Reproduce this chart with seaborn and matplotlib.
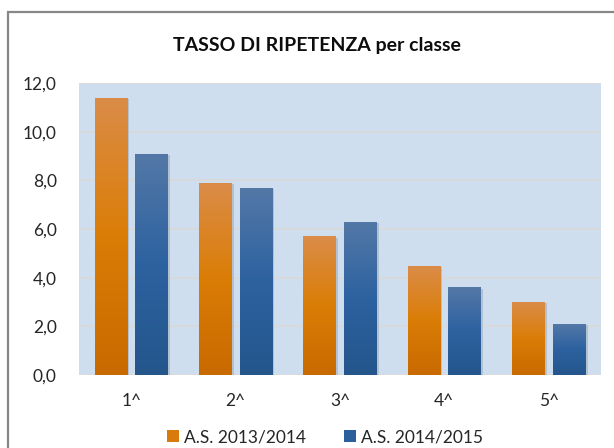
import matplotlib
matplotlib.use('Agg')
import matplotlib.pyplot as plt
import matplotlib.patheffects as pe
from matplotlib.colors import LinearSegmentedColormap
from matplotlib.patches import Rectangle
from matplotlib.ticker import FuncFormatter, MultipleLocator
import numpy as np
import pandas as pd
import seaborn as sns

# data
classi = ["1^", "2^", "3^", "4^", "5^"]
anni = ["A.S. 2013/2014", "A.S. 2014/2015"]
tasso_2013 = [11.4, 7.9, 5.7, 4.5, 3.0]
tasso_2014 = [9.1, 7.7, 6.3, 3.6, 2.1]

df = pd.DataFrame({"classe": classi, anni[0]: tasso_2013, anni[1]: tasso_2014})
df = df.melt(id_vars="classe", var_name="anno", value_name="tasso")

sns.set_theme(style="white")
plt.rcParams['font.family'] = ['Lato', 'DejaVu Sans']

orange = "#D97B0A"
blue = "#2C609C"
grads = {
    orange.lower(): ["#C96A00", "#DA7D06", "#DB8C48"],
    blue.lower(): ["#24568C", "#2D62A0", "#5378A7"],
}

fig = plt.figure(figsize=(6.14, 4.48), dpi=100)
ax = fig.add_axes([79 / 614, 1 - 375 / 448, 522 / 614, 292 / 448])

sns.barplot(data=df, x="classe", y="tasso", hue="anno", palette=[orange, blue],
            width=0.78, gap=0.2, saturation=1, linewidth=0, ax=ax, legend=True)

ax.set_xlim(-0.5, 4.5)
ax.set_ylim(0, 12)
ax.set_facecolor("#CFDEEE")
for s in ax.spines.values():
    s.set_visible(False)
ax.yaxis.set_major_locator(MultipleLocator(2))
ax.yaxis.set_major_formatter(FuncFormatter(lambda v, p: f"{v:.1f}".replace(".", ",")))
ax.grid(axis="y", color="#D9D9D9", linewidth=1.3)
ax.set_axisbelow(True)
ax.tick_params(axis="both", length=0, labelsize=12.5, colors="#262626")
ax.tick_params(axis="y", pad=16)
ax.tick_params(axis="x", pad=13)
ax.set_xlabel("")
ax.set_ylabel("")

# gradient fill on each bar
grad = np.linspace(0, 1, 100).reshape(-1, 1)
for bar in ax.patches:
    w, h = bar.get_width(), bar.get_height()
    if h <= 0 or w <= 0:
        continue
    fc = matplotlib.colors.to_hex(bar.get_facecolor()).lower()
    cmap = LinearSegmentedColormap.from_list("g", grads.get(fc, [fc, fc]))
    x0 = bar.get_x()
    bar.set_path_effects([pe.SimplePatchShadow(offset=(1.5, -1), shadow_rgbFace="#7F8FA0", alpha=0.35),
                          pe.Normal()])
    im = ax.imshow(grad, cmap=cmap, aspect="auto", origin="lower",
                   extent=[x0, x0 + w, 0, h], zorder=bar.get_zorder() + 0.1)
    im.set_clip_path(bar)
ax.set_xlim(-0.5, 4.5)
ax.set_ylim(0, 12)

handles, labels = ax.get_legend_handles_labels()
ax.get_legend().remove()
fig.legend(handles, labels, loc="center", bbox_to_anchor=(325 / 614, 1 - 437 / 448),
           ncol=2, frameon=False, fontsize=12.5, handlelength=0.7, handleheight=0.7,
           handletextpad=0.3, columnspacing=2.2, labelcolor="#262626")

fig.text(317 / 614, 1 - 45 / 448, "TASSO DI RIPETENZA per classe", ha="center", va="center",
         fontsize=14, fontweight="bold", color="#0D0D0D")

# outer chart frame
fig.patches.append(Rectangle((8 / 614, -0.1), 1.2, 1 - 12 / 448 + 0.1, transform=fig.transFigure,
                             fill=False, edgecolor="#878787", linewidth=1.6))

fig.savefig("out.png", dpi=100)
